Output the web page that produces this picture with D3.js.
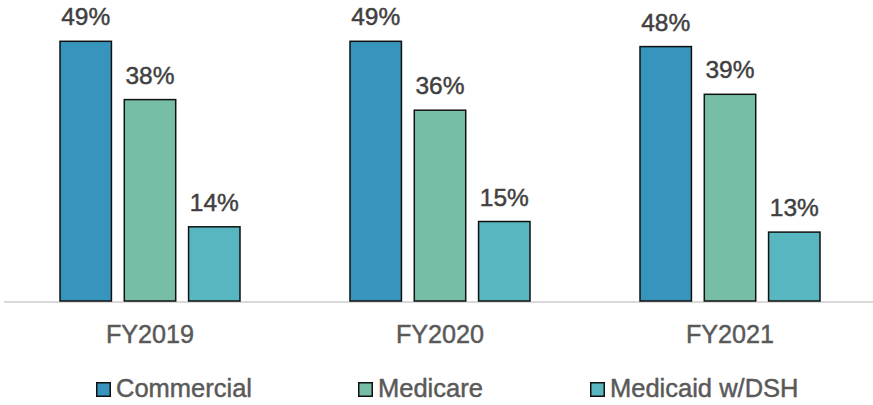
<!DOCTYPE html>
<html>
<head>
<meta charset="utf-8">
<script src="https://cdn.jsdelivr.net/npm/d3@7"></script>
<style>
  html, body { margin: 0; padding: 0; background: #fff; }
  svg { display: block; font-family: "Liberation Sans", Arial, sans-serif; }
  text { stroke-width: 0.45px; paint-order: stroke; }
</style>
</head>
<body>
<svg id="chart" width="873" height="405"></svg>
<script>
// Payer share by fiscal year
const years = ["FY2019", "FY2020", "FY2021"];
const seriesNames = ["Commercial", "Medicare", "Medicaid w/DSH"];
const commercial = [49, 49, 48];
const medicare = [38, 36, 39];
const medicaid = [14, 15, 13];
const seriesColors = ["#3794BC", "#76BFA6", "#58B6C0"];

const values = [commercial, medicare, medicaid];
const rows = years.map((y, i) => ({
  year: y,
  items: seriesNames.map((s, j) => ({ series: s, value: values[j][i], color: seriesColors[j] }))
}));

const svg = d3.select("#chart");
const baseY = 301;

const x0 = d3.scaleBand().domain(years).range([5, 875]).paddingInner(0).paddingOuter(0);
const x1 = d3.scaleBand().domain(seriesNames).range([0, 180]).paddingInner(0.2).paddingOuter(0);
const y = d3.scaleLinear().domain([0, 50]).range([baseY, baseY - 265]);

// baseline
svg.append("line")
  .attr("x1", 4).attr("x2", 873)
  .attr("y1", baseY + 1).attr("y2", baseY + 1)
  .attr("stroke", "#d9d9d9").attr("stroke-width", 2);

const groups = svg.selectAll("g.grp").data(rows).join("g")
  .attr("class", "grp")
  .attr("transform", d => `translate(${x0(d.year) + x0.bandwidth() / 2 - 90},0)`);

groups.selectAll("rect").data(d => d.items).join("rect")
  .attr("x", d => x1(d.series))
  .attr("width", x1.bandwidth())
  .attr("y", d => y(d.value))
  .attr("height", d => y(0) - y(d.value))
  .attr("fill", d => d.color)
  .attr("stroke", "#111")
  .attr("stroke-width", 1.5);

groups.selectAll("text.val").data(d => d.items).join("text")
  .attr("class", "val")
  .attr("x", d => x1(d.series) + x1.bandwidth() / 2)
  .attr("y", d => y(d.value) - 16)
  .attr("text-anchor", "middle")
  .attr("font-size", 24.5)
  .attr("fill", "#404040")
  .attr("stroke", "#404040")
  .text(d => d.value + "%");

// category axis labels
svg.selectAll("text.cat").data(years).join("text")
  .attr("class", "cat")
  .attr("x", d => x0(d) + x0.bandwidth() / 2)
  .attr("y", 343)
  .attr("text-anchor", "middle")
  .attr("font-size", 25.2)
  .attr("fill", "#595959")
  .attr("stroke", "#595959")
  .text(d => d);

// legend
const legendX = [96, 358, 590];
const legend = svg.selectAll("g.leg").data(seriesNames).join("g")
  .attr("class", "leg")
  .attr("transform", (d, i) => `translate(${legendX[i]},382)`);
legend.append("rect")
  .attr("x", 0.75).attr("y", 0.75)
  .attr("width", 13.5).attr("height", 13.5)
  .attr("fill", (d, i) => seriesColors[i])
  .attr("stroke", "#111").attr("stroke-width", 1.5);
legend.append("text")
  .attr("x", 20).attr("y", 15)
  .attr("font-size", 25.5)
  .attr("fill", "#595959")
  .attr("stroke", "#595959")
  .text(d => d);
</script>
</body>
</html>
